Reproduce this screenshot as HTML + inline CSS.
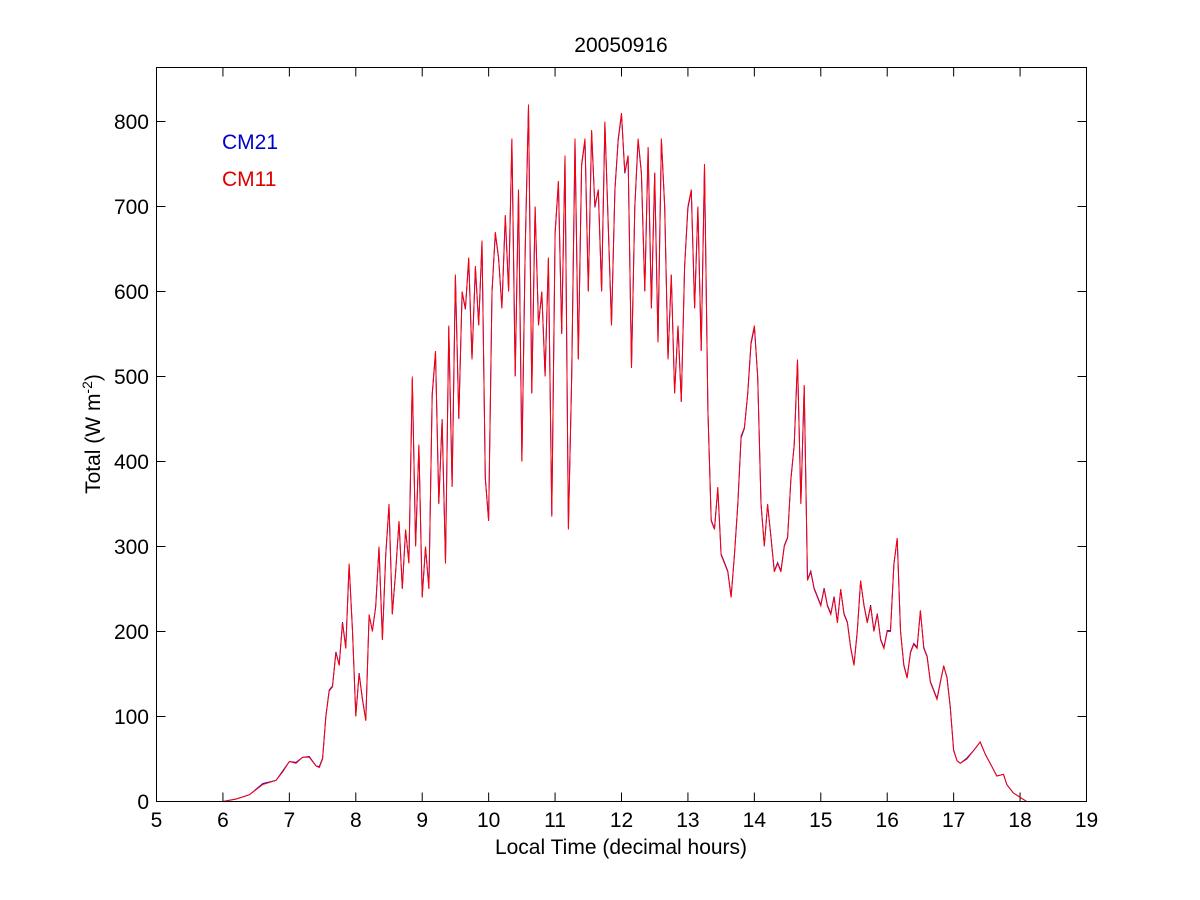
<!DOCTYPE html>
<html><head><meta charset="utf-8"><style>
body{margin:0;background:#fff}
svg{display:block;font-family:"Liberation Sans",Arial,sans-serif}
</style></head><body>
<svg id="chart" width="1200" height="900" xmlns="http://www.w3.org/2000/svg">
<rect width="1200" height="900" fill="#fff"/>
<text x="621" y="52" font-size="21" text-anchor="middle">20050916</text>
<text x="621" y="854" font-size="21" text-anchor="middle">Local Time (decimal hours)</text>
<text transform="translate(100,434) rotate(-90)" font-size="21" text-anchor="middle">Total (W m<tspan dy="-8" font-size="14">-2</tspan><tspan dy="8">)</tspan></text>
<text x="222" y="149" font-size="21" fill="#0000cc">CM21</text>
<text x="222" y="186" font-size="21" fill="#dd0000">CM11</text>
<g id="axes"></g>
<g id="series"></g>
<rect x="156.5" y="67.5" width="930" height="734" fill="none" stroke="#000" stroke-width="1"/>
</svg>
<script>
const xTicks=[5,6,7,8,9,10,11,12,13,14,15,16,17,18,19];
const yTicks=[0,100,200,300,400,500,600,700,800];
const times=[6.0,6.2,6.4,6.6,6.8,6.9,7.0,7.1,7.2,7.3,7.4,7.45,7.5,7.55,7.6,7.65,7.7,7.75,7.8,7.85,7.9,7.95,8.0,8.05,8.1,8.15,8.2,8.25,8.3,8.35,8.4,8.45,8.5,8.55,8.6,8.65,8.7,8.75,8.8,8.85,8.9,8.95,9.0,9.05,9.1,9.15,9.2,9.25,9.3,9.35,9.4,9.45,9.5,9.55,9.6,9.65,9.7,9.75,9.8,9.85,9.9,9.95,10.0,10.05,10.1,10.15,10.2,10.25,10.3,10.35,10.4,10.45,10.5,10.55,10.6,10.65,10.7,10.75,10.8,10.85,10.9,10.95,11.0,11.05,11.1,11.15,11.2,11.25,11.3,11.35,11.4,11.45,11.5,11.55,11.6,11.65,11.7,11.75,11.8,11.85,11.9,11.95,12.0,12.05,12.1,12.15,12.2,12.25,12.3,12.35,12.4,12.45,12.5,12.55,12.6,12.65,12.7,12.75,12.8,12.85,12.9,12.95,13.0,13.05,13.1,13.15,13.2,13.25,13.3,13.35,13.4,13.45,13.5,13.55,13.6,13.65,13.7,13.75,13.8,13.85,13.9,13.95,14.0,14.05,14.1,14.15,14.2,14.25,14.3,14.35,14.4,14.45,14.5,14.55,14.6,14.65,14.7,14.75,14.8,14.85,14.9,14.95,15.0,15.05,15.1,15.15,15.2,15.25,15.3,15.35,15.4,15.45,15.5,15.55,15.6,15.65,15.7,15.75,15.8,15.85,15.9,15.95,16.0,16.05,16.1,16.15,16.2,16.25,16.3,16.35,16.4,16.45,16.5,16.55,16.6,16.65,16.7,16.75,16.8,16.85,16.9,16.95,17.0,17.05,17.1,17.2,17.3,17.4,17.48,17.55,17.65,17.75,17.8,17.9,18.0,18.1,18.25];
const cm11=[0,3,8,20,25,35,47,45,52,52,42,40,50,100,130,135,175,160,210,180,280,200,100,150,120,95,220,200,230,300,190,290,350,220,270,330,250,320,280,500,300,420,240,300,250,480,530,350,450,280,560,370,620,450,600,580,640,520,630,560,660,380,330,600,670,640,580,690,600,780,500,720,400,650,820,480,700,560,600,500,640,335,670,730,550,760,320,500,780,520,750,780,600,790,700,720,600,800,680,560,720,780,810,740,760,510,700,780,740,600,770,580,740,540,780,700,520,620,480,560,470,630,700,720,580,700,530,750,460,330,320,370,290,280,270,240,290,350,430,440,480,540,560,500,350,300,350,310,270,280,270,300,310,380,420,520,350,490,260,270,250,240,230,250,230,220,240,210,250,220,210,180,160,200,260,230,210,230,200,220,190,180,200,200,280,310,200,160,145,175,185,180,225,180,170,140,130,120,140,160,145,110,60,48,45,50,60,70,55,45,30,32,20,10,5,0];
const cm21=[0,3,8,21,25,36,47,46,52,53,42,41,51,101,131,136,176,161,211,181,278,201,101,151,121,96,219,201,229,298,191,289,348,221,269,329,251,319,281,497,301,418,241,299,251,478,528,351,449,281,558,371,618,451,599,579,638,521,628,561,658,381,331,599,668,639,581,688,601,778,501,718,401,649,818,481,699,561,599,501,638,337,668,728,551,758,322,501,778,521,748,778,601,788,699,719,601,798,679,561,719,778,808,739,759,511,699,778,739,601,768,581,739,541,778,699,521,619,481,559,471,629,698,718,581,698,531,748,461,331,321,368,291,281,271,241,289,349,428,439,479,538,558,499,351,301,349,311,271,281,271,301,311,379,419,518,351,488,261,271,251,241,231,251,231,221,241,211,249,221,211,181,161,201,259,231,211,231,201,221,191,181,201,201,279,309,201,161,146,176,186,181,224,181,171,141,131,121,141,159,146,111,61,48,45,51,60,70,55,45,30,32,20,10,5,0];

const X0=156.5,X1=1086.5,Y0=801.5,Ypx=0.85;
const xs=t=>X0+(t-5)*(X1-X0)/14;
const ys=v=>Y0-v*Ypx;
const NS="http://www.w3.org/2000/svg";
const axes=document.getElementById('axes');
function mk(tag,attrs,parent){const e=document.createElementNS(NS,tag);for(const k in attrs)e.setAttribute(k,attrs[k]);parent.appendChild(e);return e;}
xTicks.forEach(t=>{
  const x=xs(t);
  const a=mk('line',{x1:x,x2:x,y1:801.5,y2:792.5,stroke:'#000'},axes);
  
  
  const b=mk('line',{x1:x,x2:x,y1:67.5,y2:76.5,stroke:'#000'},axes);
  
  
  const l=mk('text',{x:x,y:827,'font-size':21,'text-anchor':'middle'},axes);
  l.textContent=t;
  
  
});
yTicks.forEach(v=>{
  const y=ys(v);
  const a=mk('line',{x1:156.5,x2:165.5,y1:y,y2:y,stroke:'#000'},axes);
  
  
  const b=mk('line',{x1:1086.5,x2:1077.5,y1:y,y2:y,stroke:'#000'},axes);
  
  
  const l=mk('text',{x:149,y:y+7.5,'font-size':21,'text-anchor':'end'},axes);
  l.textContent=v;
  
  
});
const ser=document.getElementById('series');
function line(data,color,name){
  const d=times.map((t,i)=>(i?'L':'M')+xs(t).toFixed(1)+','+ys(data[i]).toFixed(1)).join('');
  const p=mk('path',{d:d,fill:'none',stroke:color,'stroke-width':1},ser);
  
  
}
line(cm21,'#0000ff','cm21-line');
line(cm11,'#ff0000','cm11-line');
</script>
</body></html>
